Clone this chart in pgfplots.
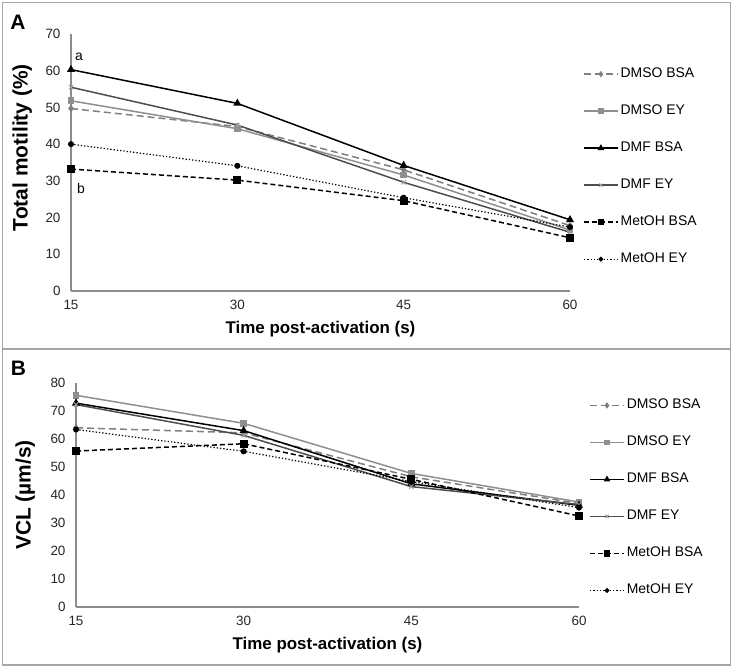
\documentclass[border=0pt]{standalone}
\usepackage{fontspec}
\setmainfont{Liberation Sans}
\usepackage{pgfplots}
\pgfplotsset{compat=1.18}
\definecolor{axgray}{HTML}{8C8C8C}
\definecolor{framegray}{HTML}{A6A6A6}
\definecolor{dsb}{HTML}{7F7F7F}
\definecolor{dse}{HTML}{8F8F8F}
\definecolor{dfe}{HTML}{4D4D4D}
\definecolor{xmark}{HTML}{9A9A9A}
\pgfplotsset{
  panel/.style={
    scale only axis, clip=false,
    xmin=15, xmax=60, ymin=0,
    xtick={15,30,45,60},
    axis x line=bottom, axis y line=left,
    axis line style={-, draw=axgray, line width=2.6bp},
    major tick length=0pt,
    /pgf/number format/assume math mode=true,
    tick label style={font=\fontsize{13.5}{16}\selectfont, text=black!85},
    yticklabel style={xshift=-7bp},
    xticklabel style={yshift=-6bp},
    xlabel={Time post-activation (s)},
    every axis x label/.style={at={(axis description cs:0.5,0)}, anchor=center, yshift=-38bp, font=\fontsize{17}{20}\selectfont\bfseries},
    legend cell align=left,
    legend style={draw=none, fill=none, inner xsep=0pt, inner ysep=0pt,
      font=\fontsize{14}{17}\selectfont, row sep=20bp,
      nodes={inner sep=2bp, text height=10bp, text depth=3bp}},
    legend image code/.code={\draw[mark repeat=2,mark phase=2,##1,every mark/.append style={scale=0.75}] plot coordinates {(0bp,0bp)(17bp,0bp)(34bp,0bp)};},
  },
  dmsobsa/.style={color=dsb, line width=1.5bp, dash pattern=on 7bp off 4bp, mark=diamond*, mark size=2.6bp, mark options={solid}},
  dmsoey/.style={color=dse, line width=1.5bp, solid, mark=square*, mark size=2.6bp},
  dmfbsa/.style={color=black, line width=1.5bp, solid, mark=triangle*, mark size=3.2bp},
  dmfey/.style={color=dfe, line width=1.5bp, solid, mark=x, mark size=3bp, mark options={draw=xmark, line width=1bp}},
  metohbsa/.style={color=black, line width=1.5bp, dash pattern=on 5bp off 3bp, mark=square*, mark size=3.4bp, mark options={solid}},
  metohey/.style={color=black, line width=1.2bp, dash pattern=on 1.3bp off 2bp, mark=*, mark size=2.4bp, mark options={solid}},
}
\begin{document}
\begin{tikzpicture}
\useasboundingbox (0bp,0bp) rectangle (733bp,667bp);
\draw[framegray, line width=1.2bp] (2.5bp,318bp) rectangle (730.5bp,664.5bp);
\draw[framegray, line width=1.2bp] (2.5bp,2bp) rectangle (730.5bp,318bp);
\node[font=\fontsize{21}{24}\selectfont\bfseries] at (18bp,645bp) {A};
\node[font=\fontsize{21}{24}\selectfont\bfseries] at (18.5bp,298.5bp) {B};

% Panel A
\begin{axis}[panel, at={(71bp,376bp)}, anchor=south west, width=499bp, height=257bp,
  ymax=70, ytick={0,10,...,70},
  ylabel={Total motility (\%)},
  every axis y label/.style={at={(axis description cs:-0.098,0.558)}, rotate=90, anchor=center, font=\fontsize{21}{24}\selectfont\bfseries},
  legend style={at={(1.026,0.484)}, anchor=west}]
\addplot[dmsobsa] coordinates {(15,49.7) (30,44.8) (45,33.0) (60,17.8)};
\addplot[dmsoey] coordinates {(15,51.8) (30,44.2) (45,31.6) (60,16.6)};
\addplot[dmfbsa] coordinates {(15,60.3) (30,51.1) (45,34.2) (60,19.4)};
\addplot[dmfey] coordinates {(15,55.5) (30,45.2) (45,29.6) (60,16.0)};
\addplot[metohbsa] coordinates {(15,33.2) (30,30.2) (45,24.6) (60,14.5)};
\addplot[metohey] coordinates {(15,40.0) (30,34.1) (45,25.4) (60,17.4)};
\legend{DMSO BSA, DMSO EY, DMF BSA, DMF EY, MetOH BSA, MetOH EY}
\node[font=\fontsize{14}{17}\selectfont] at (axis cs:15.72,63.8) {a};
\node[font=\fontsize{14}{17}\selectfont] at (axis cs:15.9,27.8) {b};
\end{axis}

% Panel B
\begin{axis}[panel, at={(76bp,60bp)}, anchor=south west, width=503bp, height=224bp,
  ymax=80, ytick={0,10,...,80},
  ylabel={VCL (µm/s)},
  every axis y label/.style={at={(axis description cs:-0.101,0.5)}, rotate=90, anchor=center, font=\fontsize{21}{24}\selectfont\bfseries},
  legend style={at={(1.02,0.487)}, anchor=west}]
\addplot[dmsobsa] coordinates {(15,64.0) (30,62.2) (45,46.5) (60,37.0)};
\addplot[dmsoey] coordinates {(15,75.6) (30,65.6) (45,47.7) (60,37.5)};
\addplot[dmfbsa] coordinates {(15,72.8) (30,63.0) (45,44.0) (60,36.3)};
\addplot[dmfey] coordinates {(15,72.3) (30,61.3) (45,43.0) (60,36.6)};
\addplot[metohbsa] coordinates {(15,55.7) (30,58.3) (45,45.6) (60,32.5)};
\addplot[metohey] coordinates {(15,63.4) (30,55.6) (45,44.8) (60,35.5)};
\legend{DMSO BSA, DMSO EY, DMF BSA, DMF EY, MetOH BSA, MetOH EY}
\end{axis}
\end{tikzpicture}
\end{document}
